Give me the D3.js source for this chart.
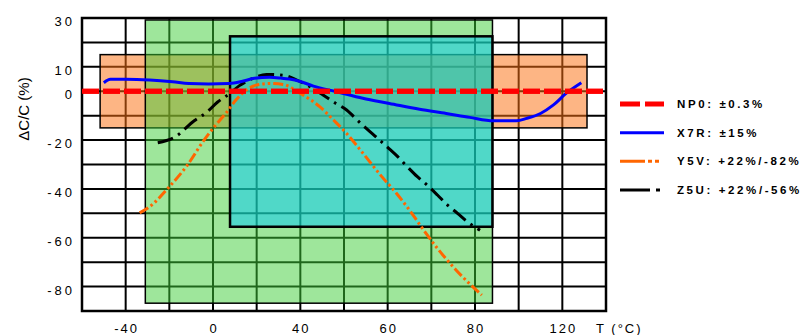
<!DOCTYPE html>
<html>
<head>
<meta charset="utf-8">
<script src="https://cdn.jsdelivr.net/npm/d3@7"></script>
<style>
  body { margin: 0; background: #fff; }
  svg { display: block; font-family: "Liberation Sans", Arial, sans-serif; }
</style>
</head>
<body>
<svg width="811" height="335"></svg>
<script>
// temperature (°C) and ΔC/C (%)
let x7rT = [-50, -47, -40, -29, -18.5, -11, -2, 7.5, 13.5, 19, 26, 31, 35, 40, 43, 48.3, 54.3, 60.4, 67.3, 73.4, 78.8, 88.4, 99, 103.7, 110, 115.8, 121.7, 128.7];
let x7rV = [3.5, 4.9, 4.9, 4.6, 3.9, 3.2, 3.0, 3.2, 4.1, 5.3, 5.7, 5.4, 5.0, 4.0, 2.1, -0.2, -2.9, -5, -7.4, -9.1, -10.7, -12.1, -12.1, -11.1, -9.1, -5.7, -0.9, 3.5];

let y5vT = [-33.6, -29, -20, -11.7, -4.1, 1.2, 5.8, 10.5, 15.2, 19.8, 26, 32.2, 40, 44.5, 47.6, 50.6, 54.4, 58.2, 62, 65, 67.7, 71.1, 75.7, 83.1];
let y5vV = [-49.8, -47.3, -39.1, -30.2, -20, -13.9, -9.1, -3.6, 0.5, 2.5, 3.2, 2.8, -0.9, -6.4, -11.8, -17.3, -25.5, -34, -41.8, -48.7, -55.5, -63.7, -73.3, -83.5];

let z5uT = [-25.3, -17.7, -8.6, -2.6, 2, 7.4, 12.1, 18.3, 24.5, 33, 38.4, 42.3, 45.3, 47.9, 50.6, 53.2, 55.1, 57.7, 60, 62.3, 64.5, 66.8, 69, 71.4, 73.7, 76, 78.3, 82.3];
let z5uV = [-21.1, -18.9, -12.1, -8.4, -4.5, -1.1, 2.3, 5.3, 6.9, 6.4, 4.6, 1.8, -1.6, -4.7, -7.7, -12.1, -15.2, -19.3, -23, -26.8, -30.9, -35, -38.4, -42.5, -46.6, -50, -53.5, -56.9];

let np0T = [-60, 140];
let np0V = [0, 0];

// specification boxes
let boxNames = ["X7R", "Y5V", "Z5U"];
let boxTmin = [-51.7, -31, 7.8];
let boxTmax = [131.3, 88, 88];
let boxVmax = [15, 29.2, 22.5];
let boxVmin = [-15, -86.8, -55.5];
let boxFill = ["rgb(251,113,20)", "rgb(61,205,55)", "rgb(2,202,245)"];
let boxOpacity = [0.52, 0.5, 0.5];
let boxStroke = [1.5, 1.5, 2.5];

let gridT = [-60, -40, -20, 0, 20, 40, 50, 60, 70, 80, 100, 120, 140];
let tickT = [-40, 0, 40, 60, 80, 120];
let gridV = d3.range(-90, 31, 10);
let tickV = [30, 10, 0, -20, -40, -60, -80];

let legendLabels = ["NP0: ±0.3%", "X7R: ±15%", "Y5V: +22%/-82%", "Z5U: +22%/-56%"];

let svg = d3.select("svg");
let margin = {top: 18, right: 205, bottom: 24, left: 82};
let plotL = margin.left, plotR = 811 - margin.right;
let plotT = margin.top, plotB = 335 - margin.bottom;
let u = (plotR - plotL) / 12;

// the grid is uniform but the 40..80 stretch is 10 °C per cell, the rest 20 °C
let x = d3.scaleLinear().domain([-60, 40, 80, 140]).range([plotL, plotL + 5 * u, plotL + 9 * u, plotR]);
let y = d3.scaleLinear().domain([-90, 30]).range([plotB, plotT]);

let g = svg.append("g");

g.selectAll(".vgrid").data(gridT).enter().append("line")
    .attr("x1", d => x(d)).attr("x2", d => x(d))
    .attr("y1", plotT).attr("y2", plotB)
    .attr("stroke", "#000").attr("stroke-width", 2);
g.selectAll(".hgrid").data(gridV).enter().append("line")
    .attr("x1", plotL).attr("x2", plotR)
    .attr("y1", d => y(d)).attr("y2", d => y(d))
    .attr("stroke", "#000").attr("stroke-width", 2);

g.selectAll(".box").data(boxNames).enter().append("rect")
    .attr("x", (d, i) => x(boxTmin[i]))
    .attr("y", (d, i) => y(boxVmax[i]))
    .attr("width", (d, i) => x(boxTmax[i]) - x(boxTmin[i]))
    .attr("height", (d, i) => y(boxVmin[i]) - y(boxVmax[i]))
    .attr("fill", (d, i) => boxFill[i])
    .attr("fill-opacity", (d, i) => boxOpacity[i])
    .attr("stroke", "#000")
    .attr("stroke-width", (d, i) => boxStroke[i]);

function series(ts, vs) {
    return ts.map((t, i) => [t, vs[i]]);
}

let line = d3.line()
    .x(d => x(d[0]))
    .y(d => y(d[1]))
    .curve(d3.curveMonotoneX);

let curves = [
    {data: series(y5vT, y5vV), color: "#ff6600", width: 3, dash: "10,3,2.5,3,2.5,3"},
    {data: series(z5uT, z5uV), color: "#000", width: 3, dash: "16,6,2.5,6"},
    {data: series(x7rT, x7rV), color: "#0000ff", width: 3, dash: null},
    {data: series(np0T, np0V), color: "#ff0000", width: 5, dash: "17,4"}
];

g.selectAll(".curve").data(curves).enter().append("path")
    .attr("d", d => line(d.data))
    .attr("fill", "none")
    .attr("stroke", d => d.color)
    .attr("stroke-width", d => d.width)
    .attr("stroke-dasharray", d => d.dash);

g.append("rect")
    .attr("x", plotL).attr("y", plotT)
    .attr("width", plotR - plotL).attr("height", plotB - plotT)
    .attr("fill", "none").attr("stroke", "#000").attr("stroke-width", 2.5);

// redraw the zero line over the frame edge
g.append("path")
    .attr("d", line(series(np0T, np0V)))
    .attr("fill", "none").attr("stroke", "#ff0000").attr("stroke-width", 5)
    .attr("stroke-dasharray", "17,4");

// axis labels
svg.selectAll(".xlab").data(tickT).enter().append("text")
    .attr("x", d => x(d) + 1)
    .attr("y", 333)
    .attr("text-anchor", "middle")
    .attr("font-size", 13)
    .attr("letter-spacing", 2)
    .text(d => d);

svg.selectAll(".ylab").data(tickV).enter().append("text")
    .attr("x", 75)
    .attr("y", d => y(d) + 8)
    .attr("text-anchor", "end")
    .attr("font-size", 13)
    .attr("letter-spacing", 3)
    .text(d => d);

svg.append("text")
    .attr("transform", "translate(29,109) rotate(-90)")
    .attr("text-anchor", "middle")
    .attr("font-size", 15)
    .text("ΔC/C (%)");

svg.append("text")
    .attr("x", 596).attr("y", 333)
    .attr("font-size", 13)
    .attr("letter-spacing", 2)
    .text("T (°C)");

// legend
let legend = svg.append("g");
let legendY = d3.scalePoint().domain(legendLabels).range([104, 190]);
let legendCurves = [curves[3], curves[2], curves[0], curves[1]];
let legendDash = ["20,5", null, "25,3,4,3,4,10", "30,6,4,10"];

legend.selectAll(".lline").data(legendLabels).enter().append("line")
    .attr("x1", 620).attr("x2", 664)
    .attr("y1", d => legendY(d)).attr("y2", d => legendY(d))
    .attr("stroke", (d, i) => legendCurves[i].color)
    .attr("stroke-width", (d, i) => legendCurves[i].width)
    .attr("stroke-dasharray", (d, i) => legendDash[i]);

legend.selectAll(".ltext").data(legendLabels).enter().append("text")
    .attr("x", 677)
    .attr("y", d => legendY(d) + 4)
    .attr("font-size", 11.5)
    .attr("font-weight", "bold")
    .attr("letter-spacing", 2.6)
    .text(d => d);
</script>
</body>
</html>
